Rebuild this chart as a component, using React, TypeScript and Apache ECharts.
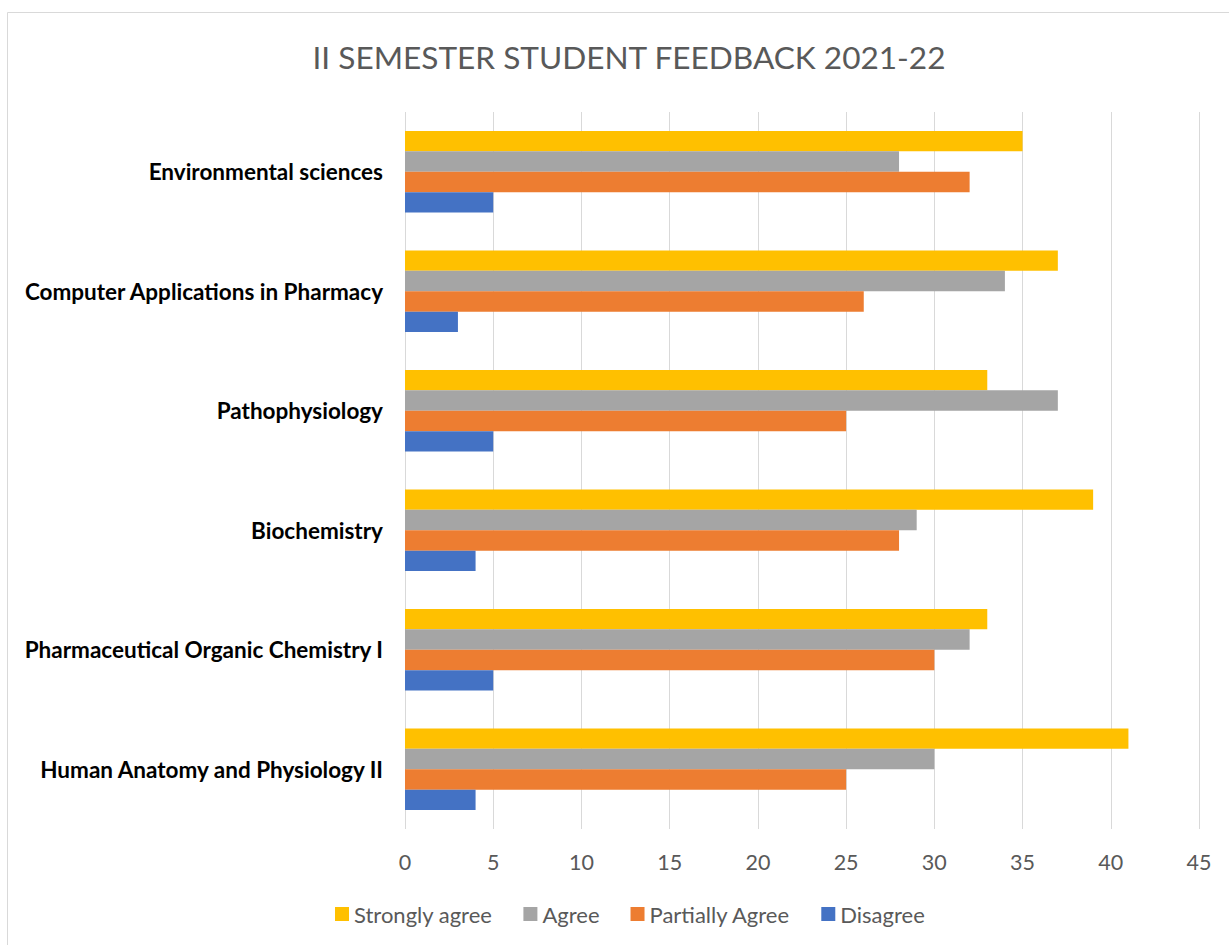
import React, { useEffect, useRef } from "react";
import * as echarts from "echarts";

const categories = [
  "Environmental sciences",
  "Computer Applications in Pharmacy",
  "Pathophysiology",
  "Biochemistry",
  "Pharmaceutical Organic Chemistry I",
  "Human Anatomy and Physiology II",
];
const stronglyAgree = [35, 37, 33, 39, 33, 41];
const agree = [28, 34, 37, 29, 32, 30];
const partiallyAgree = [32, 26, 25, 28, 30, 25];
const disagree = [5, 3, 5, 4, 5, 4];
const legendNames = ["Strongly agree", "Agree", "Partially Agree", "Disagree"];

const FONT = "Lato";

export default function App() {
  const ref = useRef<HTMLDivElement>(null);
  useEffect(() => {
    if (!ref.current) return;
    const chart = echarts.init(ref.current, null, { renderer: "svg" });
    const mk = (name: string, data: number[], color: string) => ({
      name,
      type: "bar",
      data,
      itemStyle: { color },
      barGap: "0%",
      barCategoryGap: "31.6%",
    });
    chart.setOption({
      animation: false,
      backgroundColor: "#ffffff",
      textStyle: { fontFamily: FONT },
      title: {
        text: "II SEMESTER STUDENT FEEDBACK 2021-22",
        left: 624,
        textAlign: "center",
        top: 36,
        textStyle: { fontFamily: FONT, fontSize: 31.6, fontWeight: "normal", color: "#595959" },
      },
      graphic: [
        {
          type: "rect",
          shape: { x: 7.5, y: 12.5, width: 1240, height: 950 },
          style: { fill: "none", stroke: "#d9d9d9", lineWidth: 1 },
          silent: true,
        },
      ],
      legend: {
        data: legendNames,
        top: 898,
        left: 330,
        itemWidth: 14,
        itemHeight: 14,
        itemGap: 31,
        icon: "rect",
        textStyle: { fontFamily: FONT, fontSize: 22, color: "#595959", padding: [0, 0, 0, 0] },
      },
      grid: { left: 405, right: 30, top: 112, bottom: 116, containLabel: false },
      xAxis: {
        type: "value",
        min: 0,
        max: 45,
        interval: 5,
        axisLine: { show: false },
        axisTick: { show: false },
        axisLabel: { fontFamily: FONT, fontSize: 21.5, color: "#595959", margin: 22 },
        splitLine: { show: true, lineStyle: { color: "#d9d9d9", width: 1 } },
      },
      yAxis: {
        type: "category",
        data: categories,
        inverse: true,
        axisLine: { show: false },
        axisTick: { show: false },
        axisLabel: {
          fontFamily: FONT,
          fontSize: 22.5,
          fontWeight: "bold",
          color: "#000000",
          margin: 22,
        },
      },
      series: [
        mk("Strongly agree", stronglyAgree, "#ffc000"),
        mk("Agree", agree, "#a5a5a5"),
        mk("Partially Agree", partiallyAgree, "#ed7d31"),
        mk("Disagree", disagree, "#4472c4"),
      ],
    });
    return () => chart.dispose();
  }, []);
  return (
    <div
      ref={ref}
      style={{ position: "absolute", left: 0, top: 0, width: 1229, height: 945 }}
    />
  );
}
